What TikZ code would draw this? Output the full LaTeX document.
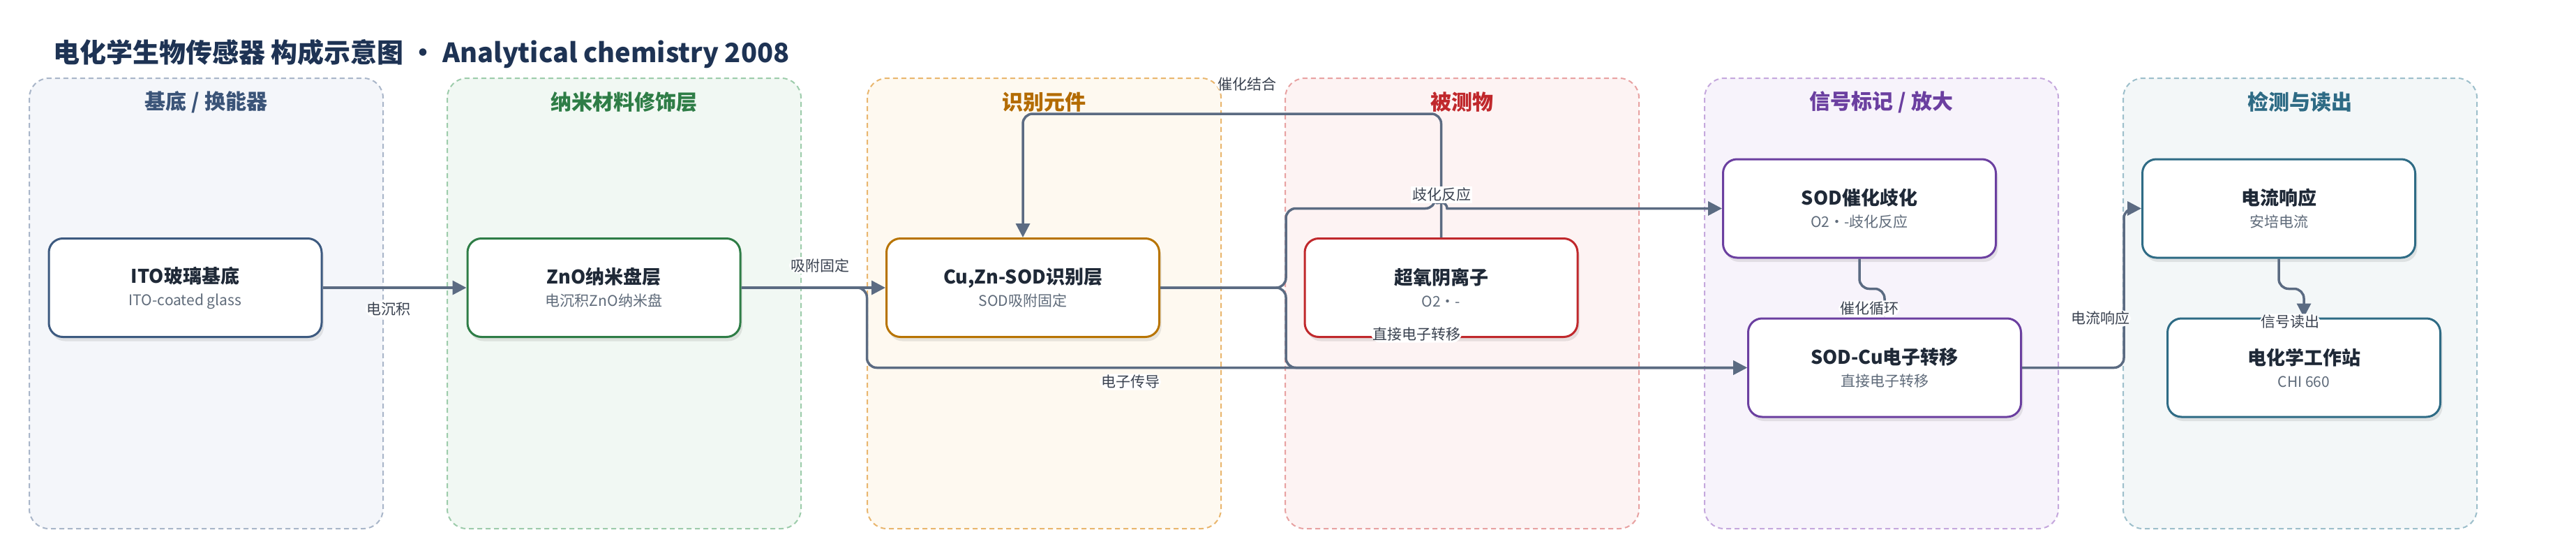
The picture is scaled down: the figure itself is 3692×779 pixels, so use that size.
\documentclass[tikz,border=0pt]{standalone}
\usepackage{fontspec}
\setmainfont{Noto Sans CJK SC}
\usetikzlibrary{arrows.meta,shadows}
\definecolor{edgec}{HTML}{5B6B82}
\definecolor{lblc}{HTML}{3A4250}
\definecolor{ttl}{HTML}{1F2937}
\definecolor{subc}{HTML}{5F6B7A}
\definecolor{mainc}{HTML}{1E3354}
\definecolor{fa}{HTML}{F4F6FA}\definecolor{ba}{HTML}{A9B6C9}\definecolor{ta}{HTML}{3B5478}\definecolor{na}{HTML}{3D5A80}
\definecolor{fb}{HTML}{F1F8F3}\definecolor{bb}{HTML}{9DCCAB}\definecolor{tb}{HTML}{2E7D46}\definecolor{nb}{HTML}{2E7D46}
\definecolor{fc}{HTML}{FEF9F0}\definecolor{bc}{HTML}{E9B66E}\definecolor{tc}{HTML}{B36B00}\definecolor{nc}{HTML}{B87400}
\definecolor{fd}{HTML}{FDF3F3}\definecolor{bd}{HTML}{E8A2A2}\definecolor{td}{HTML}{C0282C}\definecolor{nd}{HTML}{C0282C}
\definecolor{fe}{HTML}{F7F3FB}\definecolor{be}{HTML}{C5A8DD}\definecolor{te}{HTML}{6B3FA0}\definecolor{ne}{HTML}{6B3FA0}
\definecolor{ff}{HTML}{F3F7F8}\definecolor{bf}{HTML}{9DBFCB}\definecolor{tf}{HTML}{2E6B85}\definecolor{nf}{HTML}{2E6B85}
\newcommand{\boxtitle}[1]{{\fontsize{27}{32}\selectfont\bfseries\color{ttl}#1}}
\begin{document}
\begin{tikzpicture}[x=1pt,y=-1pt,
  panel/.style={line width=2pt, dash pattern=on 7pt off 5pt, rounded corners=28pt},
  ptitle/.style={font=\fontsize{30}{36}\selectfont\bfseries, inner sep=0pt},
  box/.style={rectangle, rounded corners=20pt, minimum width=391pt, minimum height=141pt, line width=3pt, fill=white, align=center, font=\fontsize{21}{32}\selectfont, text=subc, drop shadow={shadow xshift=3pt, shadow yshift=-6pt, opacity=0.15, fill=black!60}},
  edge/.style={draw=edgec, line width=3.5pt, rounded corners=14pt, -{Triangle[length=20pt,width=20pt]}},
  lbl/.style={fill=white, inner sep=2pt, font=\fontsize{21}{25}\selectfont, text=lblc}]
\useasboundingbox (0,0) rectangle (3692,779);
\fill[white] (0,0) rectangle (3692,779);
% title
\node[anchor=west, font=\fontsize{38}{44}\selectfont\bfseries, text=mainc, inner sep=0pt] (title) at (76,77) {电化学生物传感器 构成示意图 • Analytical chemistry 2008};
% panels
\draw[panel, draw=ba, fill=fa] (42,112) rectangle (549,757);
\draw[panel, draw=bb, fill=fb] (641,112) rectangle (1148,757);
\draw[panel, draw=bc, fill=fc] (1243,112) rectangle (1750,757);
\draw[panel, draw=bd, fill=fd] (1842,112) rectangle (2349,757);
\draw[panel, draw=be, fill=fe] (2443,112) rectangle (2950,757);
\draw[panel, draw=bf, fill=ff] (3043,112) rectangle (3550,757);
\node[ptitle, text=ta] (t1) at (295.5,146) {基底 / 换能器};
\node[ptitle, text=tb] (t2) at (894.5,146) {纳米材料修饰层};
\node[ptitle, text=tc] (t3) at (1496.5,146) {识别元件};
\node[ptitle, text=td] (t4) at (2095.5,146) {被测物};
\node[ptitle, text=te] (t5) at (2696.5,146) {信号标记 / 放大};
\node[ptitle, text=tf] (t6) at (3296.5,146) {检测与读出};
% nodes
\node[box, draw=na] (ito) at (265.5,412) {\boxtitle{ITO玻璃基底}\\ITO-coated glass};
\node[box, draw=nb] (zno) at (865.5,412) {\boxtitle{ZnO纳米盘层}\\电沉积ZnO纳米盘};
\node[box, draw=nc] (cuzn) at (1466,412) {\boxtitle{Cu,Zn-SOD识别层}\\SOD吸附固定};
\node[box, draw=nd] (o2) at (2065.5,412) {\boxtitle{超氧阴离子}\\O2•-};
\node[box, draw=ne] (sodcat) at (2665,298.5) {\boxtitle{SOD催化歧化}\\O2•-歧化反应};
\node[box, draw=ne] (sodcu) at (2701,526.5) {\boxtitle{SOD-Cu电子转移}\\直接电子转移};
\node[box, draw=nf] (cur) at (3266,298.5) {\boxtitle{电流响应}\\安培电流};
\node[box, draw=nf] (chi) at (3302,526.5) {\boxtitle{电化学工作站}\\CHI 660};
% edges
\draw[edge] (o2.north) -- ++(0,-177) -| (cuzn.north) node[lbl] (l1) at (1787,120) {催化结合};
\draw[edge] (ito.east) -- (zno.west) node[lbl] (l2) at (557,443) {电沉积};
\draw[edge] (zno.east) -- (cuzn.west) node[lbl] (l3) at (1175,380) {吸附固定};
\draw[edge] (zno.east) -- ++(180,0) |- (sodcu.west) node[lbl] (l4) at (1620,547) {电子传导};
\draw[edge] (cuzn.east) -- ++(180,0) |- (sodcu.west) node[lbl] (l5) at (2030,479) {直接电子转移};
\draw[edge] (cuzn.east) -- ++(180,0) |- (2057,298.5) [sharp corners] arc[start angle=180,end angle=360,radius=8.5] -- (sodcat.west) node[lbl] (l6) at (2066,279) {歧化反应};
\draw[edge] (sodcat.south) -- ++(0,43) -| (sodcu.north) node[lbl] (l7) at (2679,442) {催化循环};
\draw[edge] (sodcu.east) -- ++(146,0) |- (cur.west) node[lbl] (l8) at (3010,456) {电流响应};
\draw[edge] (cur.south) -- ++(0,43) -| (chi.north) node[lbl] (l9) at (3282,461) {信号读出};
\end{tikzpicture}
\end{document}
